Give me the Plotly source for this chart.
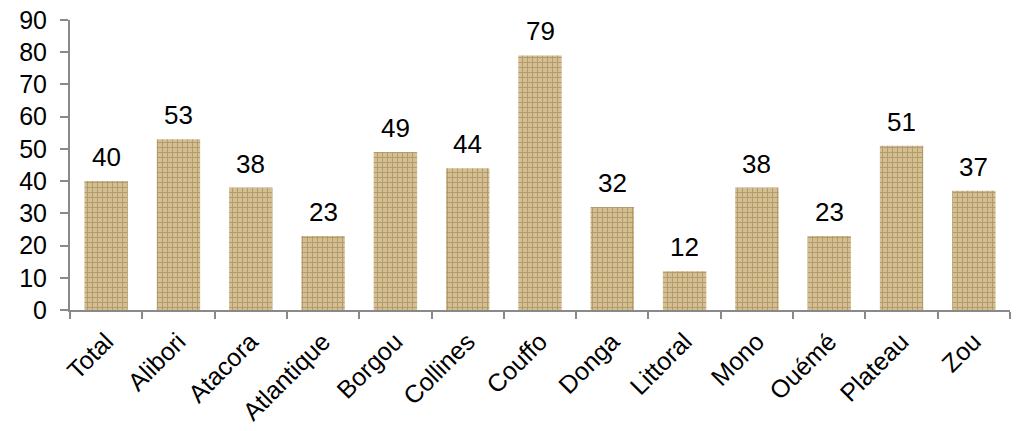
import plotly.graph_objects as go

regions = ["Total", "Alibori", "Atacora", "Atlantique", "Borgou", "Collines", "Couffo",
           "Donga", "Littoral", "Mono", "Ouémé", "Plateau", "Zou"]
values = [40, 53, 38, 23, 49, 44, 79, 32, 12, 38, 23, 51, 37]

fig = go.Figure()
fig.add_trace(go.Bar(
    x=regions, y=values, width=0.6,
    marker=dict(color="#d4bf92", line=dict(width=0),
                pattern=dict(shape="+", fgcolor="#8f7545", size=5, solidity=0.35, fillmode="overlay")),
    hoverinfo="x+y",
))

for r, v in zip(regions, values):
    fig.add_annotation(x=r, y=v, text=str(v), showarrow=False, yanchor="bottom", yshift=7,
                       font=dict(size=26, color="#000000"))

fig.update_layout(
    width=1021, height=431,
    margin=dict(l=70, r=11, t=20, b=121),
    plot_bgcolor="white", paper_bgcolor="white",
    font=dict(family="Liberation Sans, Arial", color="#000000"),
    showlegend=False, bargap=0.4,
)
fig.update_xaxes(showline=True, linecolor="#898989", linewidth=2, ticks="outside", tickson="boundaries",
                 ticklen=7, tickcolor="#898989", tickwidth=2, tickangle=-45, tickfont=dict(size=25),
                 ticklabelstandoff=5, automargin=False)
fig.update_yaxes(range=[0, 90], dtick=10, showgrid=False, zeroline=False, showline=True,
                 linecolor="#898989", linewidth=2, ticks="outside", ticklen=8, tickcolor="#898989",
                 tickwidth=2, tickfont=dict(size=25), ticklabelstandoff=8, ticklabeloverflow="allow",
                 automargin=False)

# drop the default 8px body margin so the figure fills the window exactly
fig.write_html("out.html", config={"displayModeBar": False},
               post_script="document.body.style.margin='0';document.body.style.overflow='hidden';")
